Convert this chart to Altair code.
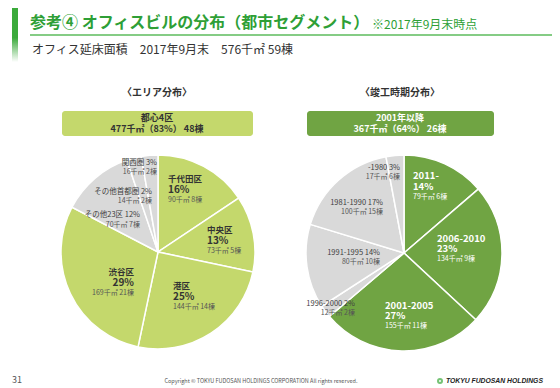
import altair as alt
import pandas as pd

# ---------------- data ----------------
area_names = ["千代田区", "中央区", "港区", "渋谷区", "その他23区", "その他首都圏", "関西圏"]
area_values = [90, 73, 144, 169, 70, 14, 16]          # 千㎡
area_pct = [16, 13, 25, 29, 12, 2, 3]
area_bldg = [8, 5, 14, 21, 7, 2, 2]
area_group = ["都心4区", "都心4区", "都心4区", "都心4区", "その他", "その他", "その他"]

era_names = ["2011-", "2006-2010", "2001-2005", "1996-2000", "1991-1995", "1981-1990", "-1980"]
era_values = [79, 134, 155, 12, 80, 100, 17]          # 千㎡
era_pct = [14, 23, 27, 2, 14, 17, 3]
era_bldg = [6, 9, 11, 2, 10, 15, 6]
era_group = ["2001年以降", "2001年以降", "2001年以降", "その他", "その他", "その他", "その他"]

# ---------------- style / layout ----------------
FONT = "Noto Sans CJK JP"
OX, OY = 8, 8
LIGHT_GREEN = "#C4D86C"
DARK_GREEN = "#70A443"
GREY = "#D9D9D9"
TITLE_GREEN = "#2E9F36"
DARK = "#333333"
MID = "#555555"

W, H = 544, 379


def pie(names, values, groups, hi_color, cx, cy, r, key):
    df = pd.DataFrame({"name": names, "v_" + key: values, "g_" + key: groups,
                       "o_" + key: list(range(len(names)))})
    return alt.Chart(df).mark_arc(outerRadius=r, stroke="white", strokeWidth=1.5).encode(
        theta=alt.Theta(f"v_{key}:Q", stack=True),
        color=alt.Color(f"g_{key}:N", scale=alt.Scale(domain=[groups[0], "その他"],
                                                       range=[hi_color, GREY]), legend=None),
        order=alt.Order(f"o_{key}:Q"),
        x=alt.value(cx - OX), y=alt.value(cy - OY),
    )


def texts(rows, size, color, weight="normal", align="left", style="normal", font=FONT):
    df = pd.DataFrame(rows, columns=["t", "x", "y"])
    df["x"] = df["x"] - OX
    df["y"] = df["y"] - OY
    return alt.Chart(df).mark_text(font=font, fontSize=size, color=color, fontWeight=weight,
                                   fontStyle=style, align=align, baseline="middle").encode(
        x=alt.X("x:Q", scale=None, axis=None),
        y=alt.Y("y:Q", scale=None, axis=None),
        text="t:N",
    )


def rect(x1, x2, y1, y2, fill, radius=0):
    return alt.Chart(pd.DataFrame({"a": [0]})).mark_rect(fill=fill, cornerRadius=radius).encode(
        x=alt.value(x1 - OX), x2=alt.value(x2 - OX), y=alt.value(y1 - OY), y2=alt.value(y2 - OY))


layers = []

# header bar with fade
grad = alt.Gradient(gradient="linear", x1=0, x2=0, y1=0, y2=1,
                    stops=[alt.GradientStop(color="#3BAA3B", offset=0),
                           alt.GradientStop(color="#3BAA3B", offset=0.55),
                           alt.GradientStop(color="#FFFFFF", offset=1)])
layers.append(alt.Chart(pd.DataFrame({"a": [0]})).mark_rect(color=grad).encode(
    x=alt.value(12 - OX), x2=alt.value(18 - OX), y=alt.value(0), y2=alt.value(62 - OY)))

# title line
layers.append(alt.Chart(pd.DataFrame({"a": [0]})).mark_rule(color="#5DBB5D", strokeWidth=1.5).encode(
    x=alt.value(30 - OX), x2=alt.value(W), y=alt.value(35 - OY)))

layers.append(texts([["参考④ オフィスビルの分布（都市セグメント）", 30, 23]], 16, TITLE_GREEN, "bold"))
layers.append(texts([["※2017年9月末時点", 372, 25]], 12, TITLE_GREEN))
layers.append(texts([["オフィス延床面積　2017年9月末　576千㎡ 59棟", 32, 50]], 12, DARK))

# section headings
layers.append(texts([["〈エリア分布〉", 157, 93], ["〈竣工時期分布〉", 400, 93]], 10, DARK, "bold", "center"))

# summary boxes
layers.append(rect(62, 253, 111, 136, LIGHT_GREEN, 3))
layers.append(rect(307, 494, 111, 136, DARK_GREEN, 3))
layers.append(texts([["都心4区", 157, 118], ["477千㎡（83%） 48棟", 157, 129]], 9, DARK, "bold", "center"))
layers.append(texts([["2001年以降", 400, 118], ["367千㎡（64%） 26棟", 400, 129]], 9, "white", "bold", "center"))

# pies
layers.append(pie(area_names, area_values, area_group, LIGHT_GREEN, 158, 252, 97, "a"))
layers.append(pie(era_names, era_values, era_group, DARK_GREEN, 404, 253, 98, "e"))


def val_txt(v, b):
    return f"{v}千㎡ {b}棟"


# label layout (image pixels): big labels -> (x, y_name, y_pct, y_val, align)
area_big_pos = [(168, 179, 190, 200, "left"), (207, 230, 241, 251, "left"),
                (173, 286, 297, 307, "left"), (134, 272, 283, 293, "right")]
area_small_pos = [(140, 215, 225), (152, 192, 201), (157, 163, 172)]
era_big_pos = [(413, 176, 187, 197), (437, 239, 249, 259), (385, 306, 316, 326)]
era_small_pos = [(355, 304, 313), (380, 253, 262), (383, 203, 212), (400, 168, 177)]

for i, (x, yn, yp, yv, al) in enumerate(area_big_pos):
    layers.append(texts([[area_names[i], x, yn]], 8.5, DARK, "bold", al))
    layers.append(texts([[f"{area_pct[i]}%", x, yp]], 10, DARK, "bold", al))
    layers.append(texts([[val_txt(area_values[i], area_bldg[i]), x, yv]], 7, MID, "normal", al))

for j, (x, y1, y2) in enumerate(area_small_pos):
    i = 4 + j
    layers.append(texts([[f"{area_names[i]} {area_pct[i]}%", x, y1]], 7.5, "#404040", "normal", "right"))
    layers.append(texts([[val_txt(area_values[i], area_bldg[i]), x, y2]], 7, MID, "normal", "right"))

for i, (x, yn, yp, yv) in enumerate(era_big_pos):
    layers.append(texts([[era_names[i], x, yn]], 9.5, "white", "bold"))
    layers.append(texts([[f"{era_pct[i]}%", x, yp]], 9.5, "white", "bold"))
    layers.append(texts([[val_txt(era_values[i], era_bldg[i]), x, yv]], 7, "white"))

for j, (x, y1, y2) in enumerate(era_small_pos):
    i = 3 + j
    layers.append(texts([[f"{era_names[i]} {era_pct[i]}%", x, y1]], 7.5, "#404040", "normal", "right"))
    layers.append(texts([[val_txt(era_values[i], era_bldg[i]), x, y2]], 7, MID, "normal", "right"))

# footer
layers.append(texts([["31", 12, 380]], 9, MID))
layers.append(texts([["Copyright © TOKYU FUDOSAN HOLDINGS CORPORATION All rights reserved.", 261, 381]],
                    5.5, MID, "normal", "center"))
layers.append(alt.Chart(pd.DataFrame({"a": [0]})).mark_point(
    filled=False, color="#3BAA3B", strokeWidth=2, size=16).encode(
    x=alt.value(440 - OX), y=alt.value(381 - OY)))
layers.append(texts([["TOKYU FUDOSAN HOLDINGS", 446, 381]], 6.8, "#222222", "bold", "left", "italic",
                    font="Liberation Sans"))

chart = alt.layer(*layers).resolve_scale(
    theta="independent", color="independent"
).properties(
    width=W, height=H, padding=0, autosize=alt.AutoSizeParams(type="none"), background="white"
).configure_view(stroke=None)

chart.save("out.html", embed_options={"renderer": "svg", "actions": False})
